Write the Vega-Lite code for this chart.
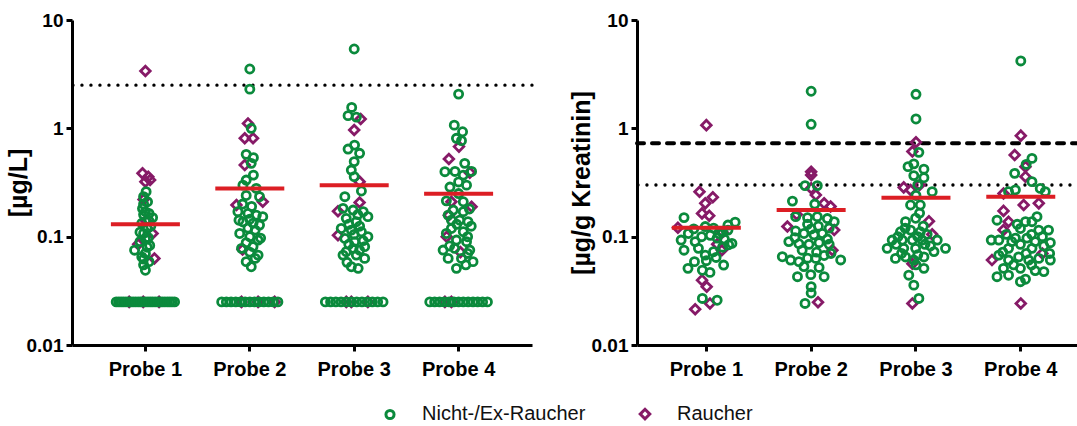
{
  "$schema": "https://vega.github.io/schema/vega-lite/v6.json",
  "padding": {"left": 6, "top": 11, "right": 0, "bottom": 0},
  "background": "white",
  "spacing": 35,
  "config": {
    "view": {"stroke": null},
    "font": "Liberation Sans",
    "axis": {"domainColor": "black", "domainWidth": 3, "tickColor": "black", "tickWidth": 3, "tickSize": 6, "labelColor": "black", "labelFont": "Liberation Sans", "labelFontWeight": "bold", "titleFont": "Liberation Sans", "titleFontWeight": "bold", "titleColor": "black", "grid": false}
  },
  "datasets": {
    "blut": [
      {"probe": "Probe 1", "gruppe": "Raucher", "wert": 3.38, "jitter": 0},
      {"probe": "Probe 1", "gruppe": "Raucher", "wert": 0.384, "jitter": -0.08},
      {"probe": "Probe 1", "gruppe": "Raucher", "wert": 0.358, "jitter": 0.08},
      {"probe": "Probe 1", "gruppe": "Raucher", "wert": 0.322, "jitter": 0},
      {"probe": "Probe 1", "gruppe": "Raucher", "wert": 0.333, "jitter": 0.13},
      {"probe": "Probe 1", "gruppe": "Raucher", "wert": 0.22, "jitter": -0.05},
      {"probe": "Probe 1", "gruppe": "Raucher", "wert": 0.14, "jitter": 0.02},
      {"probe": "Probe 1", "gruppe": "Raucher", "wert": 0.107, "jitter": 0.2},
      {"probe": "Probe 1", "gruppe": "Raucher", "wert": 0.085, "jitter": -0.2},
      {"probe": "Probe 1", "gruppe": "Raucher", "wert": 0.063, "jitter": 0.25},
      {"probe": "Probe 1", "gruppe": "Raucher", "wert": 0.025, "jitter": -0.45},
      {"probe": "Probe 1", "gruppe": "Raucher", "wert": 0.025, "jitter": -0.06},
      {"probe": "Probe 1", "gruppe": "Raucher", "wert": 0.025, "jitter": 0.38},
      {"probe": "Probe 2", "gruppe": "Raucher", "wert": 1.11, "jitter": -0.05},
      {"probe": "Probe 2", "gruppe": "Raucher", "wert": 0.81, "jitter": -0.14},
      {"probe": "Probe 2", "gruppe": "Raucher", "wert": 0.81, "jitter": 0.09},
      {"probe": "Probe 2", "gruppe": "Raucher", "wert": 0.458, "jitter": -0.14},
      {"probe": "Probe 2", "gruppe": "Raucher", "wert": 0.21, "jitter": 0.36},
      {"probe": "Probe 2", "gruppe": "Raucher", "wert": 0.196, "jitter": -0.37},
      {"probe": "Probe 2", "gruppe": "Raucher", "wert": 0.076, "jitter": -0.2},
      {"probe": "Probe 2", "gruppe": "Raucher", "wert": 0.025, "jitter": -0.23},
      {"probe": "Probe 2", "gruppe": "Raucher", "wert": 0.025, "jitter": 0.23},
      {"probe": "Probe 2", "gruppe": "Raucher", "wert": 0.025, "jitter": 0.69},
      {"probe": "Probe 3", "gruppe": "Raucher", "wert": 1.22, "jitter": 0.18},
      {"probe": "Probe 3", "gruppe": "Raucher", "wert": 0.965, "jitter": 0},
      {"probe": "Probe 3", "gruppe": "Raucher", "wert": 0.322, "jitter": 0.15},
      {"probe": "Probe 3", "gruppe": "Raucher", "wert": 0.207, "jitter": 0.15},
      {"probe": "Probe 3", "gruppe": "Raucher", "wert": 0.172, "jitter": -0.45},
      {"probe": "Probe 3", "gruppe": "Raucher", "wert": 0.103, "jitter": -0.45},
      {"probe": "Probe 3", "gruppe": "Raucher", "wert": 0.025, "jitter": -0.22},
      {"probe": "Probe 3", "gruppe": "Raucher", "wert": 0.025, "jitter": -0.08},
      {"probe": "Probe 3", "gruppe": "Raucher", "wert": 0.025, "jitter": 0.38},
      {"probe": "Probe 4", "gruppe": "Raucher", "wert": 0.678, "jitter": 0.01},
      {"probe": "Probe 4", "gruppe": "Raucher", "wert": 0.521, "jitter": -0.27},
      {"probe": "Probe 4", "gruppe": "Raucher", "wert": 0.39, "jitter": 0.31},
      {"probe": "Probe 4", "gruppe": "Raucher", "wert": 0.21, "jitter": -0.2},
      {"probe": "Probe 4", "gruppe": "Raucher", "wert": 0.189, "jitter": 0.36},
      {"probe": "Probe 4", "gruppe": "Raucher", "wert": 0.158, "jitter": -0.27},
      {"probe": "Probe 4", "gruppe": "Raucher", "wert": 0.1, "jitter": -0.33},
      {"probe": "Probe 4", "gruppe": "Raucher", "wert": 0.072, "jitter": 0.05},
      {"probe": "Probe 4", "gruppe": "Raucher", "wert": 0.025, "jitter": -0.38},
      {"probe": "Probe 4", "gruppe": "Raucher", "wert": 0.025, "jitter": -0.2},
      {"probe": "Probe 1", "gruppe": "Nicht-/Ex-Raucher", "wert": 0.26, "jitter": 0.02},
      {"probe": "Probe 1", "gruppe": "Nicht-/Ex-Raucher", "wert": 0.234, "jitter": -0.05},
      {"probe": "Probe 1", "gruppe": "Nicht-/Ex-Raucher", "wert": 0.21, "jitter": 0.06},
      {"probe": "Probe 1", "gruppe": "Nicht-/Ex-Raucher", "wert": 0.2, "jitter": -0.05},
      {"probe": "Probe 1", "gruppe": "Nicht-/Ex-Raucher", "wert": 0.182, "jitter": -0.08},
      {"probe": "Probe 1", "gruppe": "Nicht-/Ex-Raucher", "wert": 0.17, "jitter": 0},
      {"probe": "Probe 1", "gruppe": "Nicht-/Ex-Raucher", "wert": 0.164, "jitter": 0.1},
      {"probe": "Probe 1", "gruppe": "Nicht-/Ex-Raucher", "wert": 0.15, "jitter": 0.2},
      {"probe": "Probe 1", "gruppe": "Nicht-/Ex-Raucher", "wert": 0.14, "jitter": 0.1},
      {"probe": "Probe 1", "gruppe": "Nicht-/Ex-Raucher", "wert": 0.133, "jitter": -0.1},
      {"probe": "Probe 1", "gruppe": "Nicht-/Ex-Raucher", "wert": 0.119, "jitter": 0.05},
      {"probe": "Probe 1", "gruppe": "Nicht-/Ex-Raucher", "wert": 0.11, "jitter": -0.15},
      {"probe": "Probe 1", "gruppe": "Nicht-/Ex-Raucher", "wert": 0.107, "jitter": -0.05},
      {"probe": "Probe 1", "gruppe": "Nicht-/Ex-Raucher", "wert": 0.098, "jitter": 0.08},
      {"probe": "Probe 1", "gruppe": "Nicht-/Ex-Raucher", "wert": 0.095, "jitter": 0},
      {"probe": "Probe 1", "gruppe": "Nicht-/Ex-Raucher", "wert": 0.09, "jitter": -0.15},
      {"probe": "Probe 1", "gruppe": "Nicht-/Ex-Raucher", "wert": 0.083, "jitter": 0.12},
      {"probe": "Probe 1", "gruppe": "Nicht-/Ex-Raucher", "wert": 0.08, "jitter": 0.05},
      {"probe": "Probe 1", "gruppe": "Nicht-/Ex-Raucher", "wert": 0.075, "jitter": -0.3},
      {"probe": "Probe 1", "gruppe": "Nicht-/Ex-Raucher", "wert": 0.07, "jitter": 0},
      {"probe": "Probe 1", "gruppe": "Nicht-/Ex-Raucher", "wert": 0.065, "jitter": -0.1},
      {"probe": "Probe 1", "gruppe": "Nicht-/Ex-Raucher", "wert": 0.062, "jitter": -0.05},
      {"probe": "Probe 1", "gruppe": "Nicht-/Ex-Raucher", "wert": 0.0588, "jitter": 0.1},
      {"probe": "Probe 1", "gruppe": "Nicht-/Ex-Raucher", "wert": 0.055, "jitter": -0.05},
      {"probe": "Probe 1", "gruppe": "Nicht-/Ex-Raucher", "wert": 0.049, "jitter": 0},
      {"probe": "Probe 1", "gruppe": "Nicht-/Ex-Raucher", "wert": 0.16, "jitter": -0.05},
      {"probe": "Probe 1", "gruppe": "Nicht-/Ex-Raucher", "wert": 0.125, "jitter": 0.15},
      {"probe": "Probe 1", "gruppe": "Nicht-/Ex-Raucher", "wert": 0.025, "jitter": -0.81},
      {"probe": "Probe 1", "gruppe": "Nicht-/Ex-Raucher", "wert": 0.025, "jitter": -0.74},
      {"probe": "Probe 1", "gruppe": "Nicht-/Ex-Raucher", "wert": 0.025, "jitter": -0.675},
      {"probe": "Probe 1", "gruppe": "Nicht-/Ex-Raucher", "wert": 0.025, "jitter": -0.61},
      {"probe": "Probe 1", "gruppe": "Nicht-/Ex-Raucher", "wert": 0.025, "jitter": -0.54},
      {"probe": "Probe 1", "gruppe": "Nicht-/Ex-Raucher", "wert": 0.025, "jitter": -0.47},
      {"probe": "Probe 1", "gruppe": "Nicht-/Ex-Raucher", "wert": 0.025, "jitter": -0.405},
      {"probe": "Probe 1", "gruppe": "Nicht-/Ex-Raucher", "wert": 0.025, "jitter": -0.34},
      {"probe": "Probe 1", "gruppe": "Nicht-/Ex-Raucher", "wert": 0.025, "jitter": -0.27},
      {"probe": "Probe 1", "gruppe": "Nicht-/Ex-Raucher", "wert": 0.025, "jitter": -0.2},
      {"probe": "Probe 1", "gruppe": "Nicht-/Ex-Raucher", "wert": 0.025, "jitter": -0.135},
      {"probe": "Probe 1", "gruppe": "Nicht-/Ex-Raucher", "wert": 0.025, "jitter": -0.07},
      {"probe": "Probe 1", "gruppe": "Nicht-/Ex-Raucher", "wert": 0.025, "jitter": 0},
      {"probe": "Probe 1", "gruppe": "Nicht-/Ex-Raucher", "wert": 0.025, "jitter": 0.07},
      {"probe": "Probe 1", "gruppe": "Nicht-/Ex-Raucher", "wert": 0.025, "jitter": 0.135},
      {"probe": "Probe 1", "gruppe": "Nicht-/Ex-Raucher", "wert": 0.025, "jitter": 0.2},
      {"probe": "Probe 1", "gruppe": "Nicht-/Ex-Raucher", "wert": 0.025, "jitter": 0.27},
      {"probe": "Probe 1", "gruppe": "Nicht-/Ex-Raucher", "wert": 0.025, "jitter": 0.34},
      {"probe": "Probe 1", "gruppe": "Nicht-/Ex-Raucher", "wert": 0.025, "jitter": 0.405},
      {"probe": "Probe 1", "gruppe": "Nicht-/Ex-Raucher", "wert": 0.025, "jitter": 0.47},
      {"probe": "Probe 1", "gruppe": "Nicht-/Ex-Raucher", "wert": 0.025, "jitter": 0.54},
      {"probe": "Probe 1", "gruppe": "Nicht-/Ex-Raucher", "wert": 0.025, "jitter": 0.61},
      {"probe": "Probe 1", "gruppe": "Nicht-/Ex-Raucher", "wert": 0.025, "jitter": 0.675},
      {"probe": "Probe 1", "gruppe": "Nicht-/Ex-Raucher", "wert": 0.025, "jitter": 0.74},
      {"probe": "Probe 1", "gruppe": "Nicht-/Ex-Raucher", "wert": 0.025, "jitter": 0.81},
      {"probe": "Probe 2", "gruppe": "Nicht-/Ex-Raucher", "wert": 3.53, "jitter": 0},
      {"probe": "Probe 2", "gruppe": "Nicht-/Ex-Raucher", "wert": 2.3, "jitter": 0},
      {"probe": "Probe 2", "gruppe": "Nicht-/Ex-Raucher", "wert": 1.0, "jitter": 0.04},
      {"probe": "Probe 2", "gruppe": "Nicht-/Ex-Raucher", "wert": 0.575, "jitter": -0.1},
      {"probe": "Probe 2", "gruppe": "Nicht-/Ex-Raucher", "wert": 0.536, "jitter": 0.1},
      {"probe": "Probe 2", "gruppe": "Nicht-/Ex-Raucher", "wert": 0.475, "jitter": 0.04},
      {"probe": "Probe 2", "gruppe": "Nicht-/Ex-Raucher", "wert": 0.37, "jitter": 0.1},
      {"probe": "Probe 2", "gruppe": "Nicht-/Ex-Raucher", "wert": 0.333, "jitter": -0.1},
      {"probe": "Probe 2", "gruppe": "Nicht-/Ex-Raucher", "wert": 0.299, "jitter": -0.19},
      {"probe": "Probe 2", "gruppe": "Nicht-/Ex-Raucher", "wert": 0.279, "jitter": 0.18},
      {"probe": "Probe 2", "gruppe": "Nicht-/Ex-Raucher", "wert": 0.234, "jitter": 0.27},
      {"probe": "Probe 2", "gruppe": "Nicht-/Ex-Raucher", "wert": 0.24, "jitter": -0.1},
      {"probe": "Probe 2", "gruppe": "Nicht-/Ex-Raucher", "wert": 0.2, "jitter": -0.2},
      {"probe": "Probe 2", "gruppe": "Nicht-/Ex-Raucher", "wert": 0.19, "jitter": 0.05},
      {"probe": "Probe 2", "gruppe": "Nicht-/Ex-Raucher", "wert": 0.17, "jitter": -0.33},
      {"probe": "Probe 2", "gruppe": "Nicht-/Ex-Raucher", "wert": 0.164, "jitter": -0.05},
      {"probe": "Probe 2", "gruppe": "Nicht-/Ex-Raucher", "wert": 0.158, "jitter": 0.18},
      {"probe": "Probe 2", "gruppe": "Nicht-/Ex-Raucher", "wert": 0.153, "jitter": 0.36},
      {"probe": "Probe 2", "gruppe": "Nicht-/Ex-Raucher", "wert": 0.142, "jitter": -0.3},
      {"probe": "Probe 2", "gruppe": "Nicht-/Ex-Raucher", "wert": 0.137, "jitter": -0.19},
      {"probe": "Probe 2", "gruppe": "Nicht-/Ex-Raucher", "wert": 0.133, "jitter": 0.09},
      {"probe": "Probe 2", "gruppe": "Nicht-/Ex-Raucher", "wert": 0.128, "jitter": 0.27},
      {"probe": "Probe 2", "gruppe": "Nicht-/Ex-Raucher", "wert": 0.115, "jitter": 0.15},
      {"probe": "Probe 2", "gruppe": "Nicht-/Ex-Raucher", "wert": 0.107, "jitter": -0.28},
      {"probe": "Probe 2", "gruppe": "Nicht-/Ex-Raucher", "wert": 0.1, "jitter": 0},
      {"probe": "Probe 2", "gruppe": "Nicht-/Ex-Raucher", "wert": 0.097, "jitter": 0.3},
      {"probe": "Probe 2", "gruppe": "Nicht-/Ex-Raucher", "wert": 0.093, "jitter": 0.23},
      {"probe": "Probe 2", "gruppe": "Nicht-/Ex-Raucher", "wert": 0.088, "jitter": -0.1},
      {"probe": "Probe 2", "gruppe": "Nicht-/Ex-Raucher", "wert": 0.078, "jitter": -0.23},
      {"probe": "Probe 2", "gruppe": "Nicht-/Ex-Raucher", "wert": 0.081, "jitter": 0.09},
      {"probe": "Probe 2", "gruppe": "Nicht-/Ex-Raucher", "wert": 0.072, "jitter": 0},
      {"probe": "Probe 2", "gruppe": "Nicht-/Ex-Raucher", "wert": 0.0676, "jitter": 0.23},
      {"probe": "Probe 2", "gruppe": "Nicht-/Ex-Raucher", "wert": 0.063, "jitter": 0.15},
      {"probe": "Probe 2", "gruppe": "Nicht-/Ex-Raucher", "wert": 0.0588, "jitter": -0.1},
      {"probe": "Probe 2", "gruppe": "Nicht-/Ex-Raucher", "wert": 0.0528, "jitter": 0.04},
      {"probe": "Probe 2", "gruppe": "Nicht-/Ex-Raucher", "wert": 0.145, "jitter": 0},
      {"probe": "Probe 2", "gruppe": "Nicht-/Ex-Raucher", "wert": 0.12, "jitter": -0.05},
      {"probe": "Probe 2", "gruppe": "Nicht-/Ex-Raucher", "wert": 0.025, "jitter": -0.78},
      {"probe": "Probe 2", "gruppe": "Nicht-/Ex-Raucher", "wert": 0.025, "jitter": -0.65},
      {"probe": "Probe 2", "gruppe": "Nicht-/Ex-Raucher", "wert": 0.025, "jitter": -0.52},
      {"probe": "Probe 2", "gruppe": "Nicht-/Ex-Raucher", "wert": 0.025, "jitter": -0.39},
      {"probe": "Probe 2", "gruppe": "Nicht-/Ex-Raucher", "wert": 0.025, "jitter": -0.26},
      {"probe": "Probe 2", "gruppe": "Nicht-/Ex-Raucher", "wert": 0.025, "jitter": -0.13},
      {"probe": "Probe 2", "gruppe": "Nicht-/Ex-Raucher", "wert": 0.025, "jitter": 0},
      {"probe": "Probe 2", "gruppe": "Nicht-/Ex-Raucher", "wert": 0.025, "jitter": 0.13},
      {"probe": "Probe 2", "gruppe": "Nicht-/Ex-Raucher", "wert": 0.025, "jitter": 0.26},
      {"probe": "Probe 2", "gruppe": "Nicht-/Ex-Raucher", "wert": 0.025, "jitter": 0.39},
      {"probe": "Probe 2", "gruppe": "Nicht-/Ex-Raucher", "wert": 0.025, "jitter": 0.52},
      {"probe": "Probe 2", "gruppe": "Nicht-/Ex-Raucher", "wert": 0.025, "jitter": 0.65},
      {"probe": "Probe 2", "gruppe": "Nicht-/Ex-Raucher", "wert": 0.025, "jitter": 0.78},
      {"probe": "Probe 3", "gruppe": "Nicht-/Ex-Raucher", "wert": 5.4, "jitter": 0},
      {"probe": "Probe 3", "gruppe": "Nicht-/Ex-Raucher", "wert": 1.56, "jitter": -0.07},
      {"probe": "Probe 3", "gruppe": "Nicht-/Ex-Raucher", "wert": 1.31, "jitter": -0.17},
      {"probe": "Probe 3", "gruppe": "Nicht-/Ex-Raucher", "wert": 1.27, "jitter": 0.06},
      {"probe": "Probe 3", "gruppe": "Nicht-/Ex-Raucher", "wert": 0.644, "jitter": -0.17},
      {"probe": "Probe 3", "gruppe": "Nicht-/Ex-Raucher", "wert": 0.7, "jitter": 0.01},
      {"probe": "Probe 3", "gruppe": "Nicht-/Ex-Raucher", "wert": 0.588, "jitter": 0.15},
      {"probe": "Probe 3", "gruppe": "Nicht-/Ex-Raucher", "wert": 0.493, "jitter": 0},
      {"probe": "Probe 3", "gruppe": "Nicht-/Ex-Raucher", "wert": 0.412, "jitter": -0.08},
      {"probe": "Probe 3", "gruppe": "Nicht-/Ex-Raucher", "wert": 0.358, "jitter": 0},
      {"probe": "Probe 3", "gruppe": "Nicht-/Ex-Raucher", "wert": 0.264, "jitter": 0.2},
      {"probe": "Probe 3", "gruppe": "Nicht-/Ex-Raucher", "wert": 0.234, "jitter": -0.26},
      {"probe": "Probe 3", "gruppe": "Nicht-/Ex-Raucher", "wert": 0.1825, "jitter": -0.31},
      {"probe": "Probe 3", "gruppe": "Nicht-/Ex-Raucher", "wert": 0.176, "jitter": -0.03},
      {"probe": "Probe 3", "gruppe": "Nicht-/Ex-Raucher", "wert": 0.17, "jitter": 0.25},
      {"probe": "Probe 3", "gruppe": "Nicht-/Ex-Raucher", "wert": 0.16, "jitter": 0.1},
      {"probe": "Probe 3", "gruppe": "Nicht-/Ex-Raucher", "wert": 0.153, "jitter": 0.38},
      {"probe": "Probe 3", "gruppe": "Nicht-/Ex-Raucher", "wert": 0.1476, "jitter": -0.22},
      {"probe": "Probe 3", "gruppe": "Nicht-/Ex-Raucher", "wert": 0.1375, "jitter": 0.06},
      {"probe": "Probe 3", "gruppe": "Nicht-/Ex-Raucher", "wert": 0.13, "jitter": -0.15},
      {"probe": "Probe 3", "gruppe": "Nicht-/Ex-Raucher", "wert": 0.125, "jitter": 0.15},
      {"probe": "Probe 3", "gruppe": "Nicht-/Ex-Raucher", "wert": 0.119, "jitter": -0.36},
      {"probe": "Probe 3", "gruppe": "Nicht-/Ex-Raucher", "wert": 0.115, "jitter": -0.08},
      {"probe": "Probe 3", "gruppe": "Nicht-/Ex-Raucher", "wert": 0.111, "jitter": 0.2},
      {"probe": "Probe 3", "gruppe": "Nicht-/Ex-Raucher", "wert": 0.105, "jitter": 0},
      {"probe": "Probe 3", "gruppe": "Nicht-/Ex-Raucher", "wert": 0.1, "jitter": 0.38},
      {"probe": "Probe 3", "gruppe": "Nicht-/Ex-Raucher", "wert": 0.0964, "jitter": -0.26},
      {"probe": "Probe 3", "gruppe": "Nicht-/Ex-Raucher", "wert": 0.092, "jitter": 0.25},
      {"probe": "Probe 3", "gruppe": "Nicht-/Ex-Raucher", "wert": 0.0899, "jitter": 0.01},
      {"probe": "Probe 3", "gruppe": "Nicht-/Ex-Raucher", "wert": 0.085, "jitter": -0.15},
      {"probe": "Probe 3", "gruppe": "Nicht-/Ex-Raucher", "wert": 0.0809, "jitter": 0.29},
      {"probe": "Probe 3", "gruppe": "Nicht-/Ex-Raucher", "wert": 0.078, "jitter": -0.03},
      {"probe": "Probe 3", "gruppe": "Nicht-/Ex-Raucher", "wert": 0.075, "jitter": 0.15},
      {"probe": "Probe 3", "gruppe": "Nicht-/Ex-Raucher", "wert": 0.0727, "jitter": -0.22},
      {"probe": "Probe 3", "gruppe": "Nicht-/Ex-Raucher", "wert": 0.0676, "jitter": 0.06},
      {"probe": "Probe 3", "gruppe": "Nicht-/Ex-Raucher", "wert": 0.063, "jitter": 0.29},
      {"probe": "Probe 3", "gruppe": "Nicht-/Ex-Raucher", "wert": 0.058, "jitter": -0.2},
      {"probe": "Probe 3", "gruppe": "Nicht-/Ex-Raucher", "wert": 0.0528, "jitter": -0.08},
      {"probe": "Probe 3", "gruppe": "Nicht-/Ex-Raucher", "wert": 0.051, "jitter": 0.11},
      {"probe": "Probe 3", "gruppe": "Nicht-/Ex-Raucher", "wert": 0.0676, "jitter": -0.31},
      {"probe": "Probe 3", "gruppe": "Nicht-/Ex-Raucher", "wert": 0.025, "jitter": -0.8},
      {"probe": "Probe 3", "gruppe": "Nicht-/Ex-Raucher", "wert": 0.025, "jitter": -0.655},
      {"probe": "Probe 3", "gruppe": "Nicht-/Ex-Raucher", "wert": 0.025, "jitter": -0.51},
      {"probe": "Probe 3", "gruppe": "Nicht-/Ex-Raucher", "wert": 0.025, "jitter": -0.365},
      {"probe": "Probe 3", "gruppe": "Nicht-/Ex-Raucher", "wert": 0.025, "jitter": -0.22},
      {"probe": "Probe 3", "gruppe": "Nicht-/Ex-Raucher", "wert": 0.025, "jitter": -0.075},
      {"probe": "Probe 3", "gruppe": "Nicht-/Ex-Raucher", "wert": 0.025, "jitter": 0.07},
      {"probe": "Probe 3", "gruppe": "Nicht-/Ex-Raucher", "wert": 0.025, "jitter": 0.215},
      {"probe": "Probe 3", "gruppe": "Nicht-/Ex-Raucher", "wert": 0.025, "jitter": 0.36},
      {"probe": "Probe 3", "gruppe": "Nicht-/Ex-Raucher", "wert": 0.025, "jitter": 0.505},
      {"probe": "Probe 3", "gruppe": "Nicht-/Ex-Raucher", "wert": 0.025, "jitter": 0.65},
      {"probe": "Probe 3", "gruppe": "Nicht-/Ex-Raucher", "wert": 0.025, "jitter": 0.8},
      {"probe": "Probe 4", "gruppe": "Nicht-/Ex-Raucher", "wert": 2.07, "jitter": 0},
      {"probe": "Probe 4", "gruppe": "Nicht-/Ex-Raucher", "wert": 1.07, "jitter": -0.12},
      {"probe": "Probe 4", "gruppe": "Nicht-/Ex-Raucher", "wert": 0.93, "jitter": 0.11},
      {"probe": "Probe 4", "gruppe": "Nicht-/Ex-Raucher", "wert": 0.809, "jitter": -0.06},
      {"probe": "Probe 4", "gruppe": "Nicht-/Ex-Raucher", "wert": 0.77, "jitter": 0.08},
      {"probe": "Probe 4", "gruppe": "Nicht-/Ex-Raucher", "wert": 0.475, "jitter": 0.17},
      {"probe": "Probe 4", "gruppe": "Nicht-/Ex-Raucher", "wert": 0.398, "jitter": -0.38},
      {"probe": "Probe 4", "gruppe": "Nicht-/Ex-Raucher", "wert": 0.4, "jitter": -0.1},
      {"probe": "Probe 4", "gruppe": "Nicht-/Ex-Raucher", "wert": 0.4, "jitter": 0.36},
      {"probe": "Probe 4", "gruppe": "Nicht-/Ex-Raucher", "wert": 0.37, "jitter": 0.13},
      {"probe": "Probe 4", "gruppe": "Nicht-/Ex-Raucher", "wert": 0.32, "jitter": 0},
      {"probe": "Probe 4", "gruppe": "Nicht-/Ex-Raucher", "wert": 0.299, "jitter": 0.22},
      {"probe": "Probe 4", "gruppe": "Nicht-/Ex-Raucher", "wert": 0.287, "jitter": -0.24},
      {"probe": "Probe 4", "gruppe": "Nicht-/Ex-Raucher", "wert": 0.25, "jitter": 0},
      {"probe": "Probe 4", "gruppe": "Nicht-/Ex-Raucher", "wert": 0.214, "jitter": -0.34},
      {"probe": "Probe 4", "gruppe": "Nicht-/Ex-Raucher", "wert": 0.21, "jitter": 0.13},
      {"probe": "Probe 4", "gruppe": "Nicht-/Ex-Raucher", "wert": 0.18, "jitter": 0.3},
      {"probe": "Probe 4", "gruppe": "Nicht-/Ex-Raucher", "wert": 0.176, "jitter": -0.15},
      {"probe": "Probe 4", "gruppe": "Nicht-/Ex-Raucher", "wert": 0.17, "jitter": 0.13},
      {"probe": "Probe 4", "gruppe": "Nicht-/Ex-Raucher", "wert": 0.158, "jitter": -0.29},
      {"probe": "Probe 4", "gruppe": "Nicht-/Ex-Raucher", "wert": 0.142, "jitter": 0.03},
      {"probe": "Probe 4", "gruppe": "Nicht-/Ex-Raucher", "wert": 0.1375, "jitter": 0.26},
      {"probe": "Probe 4", "gruppe": "Nicht-/Ex-Raucher", "wert": 0.142, "jitter": -0.2},
      {"probe": "Probe 4", "gruppe": "Nicht-/Ex-Raucher", "wert": 0.13, "jitter": -0.05},
      {"probe": "Probe 4", "gruppe": "Nicht-/Ex-Raucher", "wert": 0.125, "jitter": 0.35},
      {"probe": "Probe 4", "gruppe": "Nicht-/Ex-Raucher", "wert": 0.119, "jitter": -0.2},
      {"probe": "Probe 4", "gruppe": "Nicht-/Ex-Raucher", "wert": 0.111, "jitter": 0.13},
      {"probe": "Probe 4", "gruppe": "Nicht-/Ex-Raucher", "wert": 0.107, "jitter": -0.34},
      {"probe": "Probe 4", "gruppe": "Nicht-/Ex-Raucher", "wert": 0.1, "jitter": 0.25},
      {"probe": "Probe 4", "gruppe": "Nicht-/Ex-Raucher", "wert": 0.093, "jitter": -0.06},
      {"probe": "Probe 4", "gruppe": "Nicht-/Ex-Raucher", "wert": 0.0899, "jitter": 0.22},
      {"probe": "Probe 4", "gruppe": "Nicht-/Ex-Raucher", "wert": 0.082, "jitter": -0.25},
      {"probe": "Probe 4", "gruppe": "Nicht-/Ex-Raucher", "wert": 0.0752, "jitter": -0.43},
      {"probe": "Probe 4", "gruppe": "Nicht-/Ex-Raucher", "wert": 0.078, "jitter": -0.11},
      {"probe": "Probe 4", "gruppe": "Nicht-/Ex-Raucher", "wert": 0.0752, "jitter": 0.31},
      {"probe": "Probe 4", "gruppe": "Nicht-/Ex-Raucher", "wert": 0.07, "jitter": 0.25},
      {"probe": "Probe 4", "gruppe": "Nicht-/Ex-Raucher", "wert": 0.063, "jitter": -0.29},
      {"probe": "Probe 4", "gruppe": "Nicht-/Ex-Raucher", "wert": 0.063, "jitter": 0.08},
      {"probe": "Probe 4", "gruppe": "Nicht-/Ex-Raucher", "wert": 0.0588, "jitter": 0.4},
      {"probe": "Probe 4", "gruppe": "Nicht-/Ex-Raucher", "wert": 0.055, "jitter": 0.2},
      {"probe": "Probe 4", "gruppe": "Nicht-/Ex-Raucher", "wert": 0.051, "jitter": -0.06},
      {"probe": "Probe 4", "gruppe": "Nicht-/Ex-Raucher", "wert": 0.025, "jitter": -0.8},
      {"probe": "Probe 4", "gruppe": "Nicht-/Ex-Raucher", "wert": 0.025, "jitter": -0.665},
      {"probe": "Probe 4", "gruppe": "Nicht-/Ex-Raucher", "wert": 0.025, "jitter": -0.53},
      {"probe": "Probe 4", "gruppe": "Nicht-/Ex-Raucher", "wert": 0.025, "jitter": -0.4},
      {"probe": "Probe 4", "gruppe": "Nicht-/Ex-Raucher", "wert": 0.025, "jitter": -0.265},
      {"probe": "Probe 4", "gruppe": "Nicht-/Ex-Raucher", "wert": 0.025, "jitter": -0.13},
      {"probe": "Probe 4", "gruppe": "Nicht-/Ex-Raucher", "wert": 0.025, "jitter": 0},
      {"probe": "Probe 4", "gruppe": "Nicht-/Ex-Raucher", "wert": 0.025, "jitter": 0.13},
      {"probe": "Probe 4", "gruppe": "Nicht-/Ex-Raucher", "wert": 0.025, "jitter": 0.265},
      {"probe": "Probe 4", "gruppe": "Nicht-/Ex-Raucher", "wert": 0.025, "jitter": 0.4},
      {"probe": "Probe 4", "gruppe": "Nicht-/Ex-Raucher", "wert": 0.025, "jitter": 0.53},
      {"probe": "Probe 4", "gruppe": "Nicht-/Ex-Raucher", "wert": 0.025, "jitter": 0.665},
      {"probe": "Probe 4", "gruppe": "Nicht-/Ex-Raucher", "wert": 0.025, "jitter": 0.8}
    ],
    "krea": [
      {"probe": "Probe 1", "gruppe": "Raucher", "wert": 1.07, "jitter": 0},
      {"probe": "Probe 1", "gruppe": "Raucher", "wert": 0.26, "jitter": -0.19},
      {"probe": "Probe 1", "gruppe": "Raucher", "wert": 0.231, "jitter": 0.18},
      {"probe": "Probe 1", "gruppe": "Raucher", "wert": 0.203, "jitter": -0.03},
      {"probe": "Probe 1", "gruppe": "Raucher", "wert": 0.164, "jitter": -0.12},
      {"probe": "Probe 1", "gruppe": "Raucher", "wert": 0.156, "jitter": 0.08},
      {"probe": "Probe 1", "gruppe": "Raucher", "wert": 0.121, "jitter": -0.79},
      {"probe": "Probe 1", "gruppe": "Raucher", "wert": 0.075, "jitter": 0.43},
      {"probe": "Probe 1", "gruppe": "Raucher", "wert": 0.085, "jitter": 0.3},
      {"probe": "Probe 1", "gruppe": "Raucher", "wert": 0.11, "jitter": 0.45},
      {"probe": "Probe 1", "gruppe": "Raucher", "wert": 0.0397, "jitter": -0.12},
      {"probe": "Probe 1", "gruppe": "Raucher", "wert": 0.0345, "jitter": 0.01},
      {"probe": "Probe 1", "gruppe": "Raucher", "wert": 0.0214, "jitter": -0.31},
      {"probe": "Probe 1", "gruppe": "Raucher", "wert": 0.0242, "jitter": 0.1},
      {"probe": "Probe 2", "gruppe": "Raucher", "wert": 0.398, "jitter": 0},
      {"probe": "Probe 2", "gruppe": "Raucher", "wert": 0.37, "jitter": 0},
      {"probe": "Probe 2", "gruppe": "Raucher", "wert": 0.28, "jitter": 0},
      {"probe": "Probe 2", "gruppe": "Raucher", "wert": 0.242, "jitter": 0.13},
      {"probe": "Probe 2", "gruppe": "Raucher", "wert": 0.203, "jitter": 0.36},
      {"probe": "Probe 2", "gruppe": "Raucher", "wert": 0.19, "jitter": 0.54},
      {"probe": "Probe 2", "gruppe": "Raucher", "wert": 0.16, "jitter": -0.4},
      {"probe": "Probe 2", "gruppe": "Raucher", "wert": 0.115, "jitter": 0.64},
      {"probe": "Probe 2", "gruppe": "Raucher", "wert": 0.124, "jitter": -0.66},
      {"probe": "Probe 2", "gruppe": "Raucher", "wert": 0.075, "jitter": 0.59},
      {"probe": "Probe 2", "gruppe": "Raucher", "wert": 0.0248, "jitter": 0.19},
      {"probe": "Probe 3", "gruppe": "Raucher", "wert": 0.743, "jitter": 0},
      {"probe": "Probe 3", "gruppe": "Raucher", "wert": 0.61, "jitter": -0.1},
      {"probe": "Probe 3", "gruppe": "Raucher", "wert": 0.3, "jitter": 0.1},
      {"probe": "Probe 3", "gruppe": "Raucher", "wert": 0.285, "jitter": -0.34},
      {"probe": "Probe 3", "gruppe": "Raucher", "wert": 0.27, "jitter": -0.15},
      {"probe": "Probe 3", "gruppe": "Raucher", "wert": 0.139, "jitter": 0.36},
      {"probe": "Probe 3", "gruppe": "Raucher", "wert": 0.105, "jitter": 0.45},
      {"probe": "Probe 3", "gruppe": "Raucher", "wert": 0.0562, "jitter": -0.1},
      {"probe": "Probe 3", "gruppe": "Raucher", "wert": 0.0242, "jitter": -0.1},
      {"probe": "Probe 4", "gruppe": "Raucher", "wert": 0.856, "jitter": 0},
      {"probe": "Probe 4", "gruppe": "Raucher", "wert": 0.567, "jitter": -0.17},
      {"probe": "Probe 4", "gruppe": "Raucher", "wert": 0.443, "jitter": 0.13},
      {"probe": "Probe 4", "gruppe": "Raucher", "wert": 0.358, "jitter": 0.13},
      {"probe": "Probe 4", "gruppe": "Raucher", "wert": 0.25, "jitter": -0.48},
      {"probe": "Probe 4", "gruppe": "Raucher", "wert": 0.203, "jitter": 0.5},
      {"probe": "Probe 4", "gruppe": "Raucher", "wert": 0.196, "jitter": 0.08},
      {"probe": "Probe 4", "gruppe": "Raucher", "wert": 0.173, "jitter": -0.48},
      {"probe": "Probe 4", "gruppe": "Raucher", "wert": 0.1375, "jitter": -0.34},
      {"probe": "Probe 4", "gruppe": "Raucher", "wert": 0.115, "jitter": -0.48},
      {"probe": "Probe 4", "gruppe": "Raucher", "wert": 0.07, "jitter": 0.6},
      {"probe": "Probe 4", "gruppe": "Raucher", "wert": 0.0608, "jitter": -0.8},
      {"probe": "Probe 4", "gruppe": "Raucher", "wert": 0.0242, "jitter": 0},
      {"probe": "Probe 1", "gruppe": "Nicht-/Ex-Raucher", "wert": 0.15, "jitter": -0.62},
      {"probe": "Probe 1", "gruppe": "Nicht-/Ex-Raucher", "wert": 0.136, "jitter": 0.8},
      {"probe": "Probe 1", "gruppe": "Nicht-/Ex-Raucher", "wert": 0.128, "jitter": 0.6},
      {"probe": "Probe 1", "gruppe": "Nicht-/Ex-Raucher", "wert": 0.124, "jitter": -0.03},
      {"probe": "Probe 1", "gruppe": "Nicht-/Ex-Raucher", "wert": 0.12, "jitter": 0.2},
      {"probe": "Probe 1", "gruppe": "Nicht-/Ex-Raucher", "wert": 0.118, "jitter": -0.35},
      {"probe": "Probe 1", "gruppe": "Nicht-/Ex-Raucher", "wert": 0.115, "jitter": 0.6},
      {"probe": "Probe 1", "gruppe": "Nicht-/Ex-Raucher", "wert": 0.11, "jitter": 0.45},
      {"probe": "Probe 1", "gruppe": "Nicht-/Ex-Raucher", "wert": 0.107, "jitter": -0.5},
      {"probe": "Probe 1", "gruppe": "Nicht-/Ex-Raucher", "wert": 0.107, "jitter": 0.34},
      {"probe": "Probe 1", "gruppe": "Nicht-/Ex-Raucher", "wert": 0.103, "jitter": 0.11},
      {"probe": "Probe 1", "gruppe": "Nicht-/Ex-Raucher", "wert": 0.1, "jitter": -0.13},
      {"probe": "Probe 1", "gruppe": "Nicht-/Ex-Raucher", "wert": 0.097, "jitter": 0.3},
      {"probe": "Probe 1", "gruppe": "Nicht-/Ex-Raucher", "wert": 0.095, "jitter": 0.5},
      {"probe": "Probe 1", "gruppe": "Nicht-/Ex-Raucher", "wert": 0.093, "jitter": -0.7},
      {"probe": "Probe 1", "gruppe": "Nicht-/Ex-Raucher", "wert": 0.09, "jitter": -0.31},
      {"probe": "Probe 1", "gruppe": "Nicht-/Ex-Raucher", "wert": 0.0867, "jitter": 0.71},
      {"probe": "Probe 1", "gruppe": "Nicht-/Ex-Raucher", "wert": 0.0842, "jitter": 0.62},
      {"probe": "Probe 1", "gruppe": "Nicht-/Ex-Raucher", "wert": 0.08, "jitter": 0.45},
      {"probe": "Probe 1", "gruppe": "Nicht-/Ex-Raucher", "wert": 0.078, "jitter": -0.22},
      {"probe": "Probe 1", "gruppe": "Nicht-/Ex-Raucher", "wert": 0.075, "jitter": -0.62},
      {"probe": "Probe 1", "gruppe": "Nicht-/Ex-Raucher", "wert": 0.0727, "jitter": 0.2},
      {"probe": "Probe 1", "gruppe": "Nicht-/Ex-Raucher", "wert": 0.0676, "jitter": -0.03},
      {"probe": "Probe 1", "gruppe": "Nicht-/Ex-Raucher", "wert": 0.0643, "jitter": 0.27},
      {"probe": "Probe 1", "gruppe": "Nicht-/Ex-Raucher", "wert": 0.06, "jitter": 0},
      {"probe": "Probe 1", "gruppe": "Nicht-/Ex-Raucher", "wert": 0.0588, "jitter": -0.33},
      {"probe": "Probe 1", "gruppe": "Nicht-/Ex-Raucher", "wert": 0.0547, "jitter": 0.48},
      {"probe": "Probe 1", "gruppe": "Nicht-/Ex-Raucher", "wert": 0.051, "jitter": -0.51},
      {"probe": "Probe 1", "gruppe": "Nicht-/Ex-Raucher", "wert": 0.049, "jitter": -0.11},
      {"probe": "Probe 1", "gruppe": "Nicht-/Ex-Raucher", "wert": 0.0468, "jitter": 0.1},
      {"probe": "Probe 1", "gruppe": "Nicht-/Ex-Raucher", "wert": 0.0269, "jitter": -0.11},
      {"probe": "Probe 1", "gruppe": "Nicht-/Ex-Raucher", "wert": 0.0259, "jitter": 0.3},
      {"probe": "Probe 2", "gruppe": "Nicht-/Ex-Raucher", "wert": 2.2, "jitter": 0},
      {"probe": "Probe 2", "gruppe": "Nicht-/Ex-Raucher", "wert": 1.09, "jitter": 0},
      {"probe": "Probe 2", "gruppe": "Nicht-/Ex-Raucher", "wert": 0.296, "jitter": -0.17},
      {"probe": "Probe 2", "gruppe": "Nicht-/Ex-Raucher", "wert": 0.296, "jitter": 0.17},
      {"probe": "Probe 2", "gruppe": "Nicht-/Ex-Raucher", "wert": 0.213, "jitter": -0.52},
      {"probe": "Probe 2", "gruppe": "Nicht-/Ex-Raucher", "wert": 0.2, "jitter": 0.1},
      {"probe": "Probe 2", "gruppe": "Nicht-/Ex-Raucher", "wert": 0.153, "jitter": -0.43},
      {"probe": "Probe 2", "gruppe": "Nicht-/Ex-Raucher", "wert": 0.15, "jitter": -0.1},
      {"probe": "Probe 2", "gruppe": "Nicht-/Ex-Raucher", "wert": 0.153, "jitter": 0.17},
      {"probe": "Probe 2", "gruppe": "Nicht-/Ex-Raucher", "wert": 0.147, "jitter": 0.45},
      {"probe": "Probe 2", "gruppe": "Nicht-/Ex-Raucher", "wert": 0.1375, "jitter": 0.64},
      {"probe": "Probe 2", "gruppe": "Nicht-/Ex-Raucher", "wert": 0.13, "jitter": -0.1},
      {"probe": "Probe 2", "gruppe": "Nicht-/Ex-Raucher", "wert": 0.125, "jitter": 0.2},
      {"probe": "Probe 2", "gruppe": "Nicht-/Ex-Raucher", "wert": 0.12, "jitter": 0.5},
      {"probe": "Probe 2", "gruppe": "Nicht-/Ex-Raucher", "wert": 0.118, "jitter": 0},
      {"probe": "Probe 2", "gruppe": "Nicht-/Ex-Raucher", "wert": 0.1128, "jitter": -0.43},
      {"probe": "Probe 2", "gruppe": "Nicht-/Ex-Raucher", "wert": 0.107, "jitter": -0.2},
      {"probe": "Probe 2", "gruppe": "Nicht-/Ex-Raucher", "wert": 0.104, "jitter": 0.08},
      {"probe": "Probe 2", "gruppe": "Nicht-/Ex-Raucher", "wert": 0.107, "jitter": 0.31},
      {"probe": "Probe 2", "gruppe": "Nicht-/Ex-Raucher", "wert": 0.098, "jitter": -0.45},
      {"probe": "Probe 2", "gruppe": "Nicht-/Ex-Raucher", "wert": 0.095, "jitter": 0.45},
      {"probe": "Probe 2", "gruppe": "Nicht-/Ex-Raucher", "wert": 0.09, "jitter": -0.62},
      {"probe": "Probe 2", "gruppe": "Nicht-/Ex-Raucher", "wert": 0.086, "jitter": -0.34},
      {"probe": "Probe 2", "gruppe": "Nicht-/Ex-Raucher", "wert": 0.085, "jitter": -0.06},
      {"probe": "Probe 2", "gruppe": "Nicht-/Ex-Raucher", "wert": 0.088, "jitter": 0.22},
      {"probe": "Probe 2", "gruppe": "Nicht-/Ex-Raucher", "wert": 0.085, "jitter": 0.5},
      {"probe": "Probe 2", "gruppe": "Nicht-/Ex-Raucher", "wert": 0.075, "jitter": -0.25},
      {"probe": "Probe 2", "gruppe": "Nicht-/Ex-Raucher", "wert": 0.072, "jitter": 0.15},
      {"probe": "Probe 2", "gruppe": "Nicht-/Ex-Raucher", "wert": 0.07, "jitter": 0.55},
      {"probe": "Probe 2", "gruppe": "Nicht-/Ex-Raucher", "wert": 0.0653, "jitter": -0.8},
      {"probe": "Probe 2", "gruppe": "Nicht-/Ex-Raucher", "wert": 0.0608, "jitter": -0.57},
      {"probe": "Probe 2", "gruppe": "Nicht-/Ex-Raucher", "wert": 0.0588, "jitter": -0.34},
      {"probe": "Probe 2", "gruppe": "Nicht-/Ex-Raucher", "wert": 0.0633, "jitter": -0.1},
      {"probe": "Probe 2", "gruppe": "Nicht-/Ex-Raucher", "wert": 0.063, "jitter": 0.13},
      {"probe": "Probe 2", "gruppe": "Nicht-/Ex-Raucher", "wert": 0.067, "jitter": 0.36},
      {"probe": "Probe 2", "gruppe": "Nicht-/Ex-Raucher", "wert": 0.061, "jitter": 0.82},
      {"probe": "Probe 2", "gruppe": "Nicht-/Ex-Raucher", "wert": 0.053, "jitter": -0.2},
      {"probe": "Probe 2", "gruppe": "Nicht-/Ex-Raucher", "wert": 0.052, "jitter": 0.22},
      {"probe": "Probe 2", "gruppe": "Nicht-/Ex-Raucher", "wert": 0.0427, "jitter": -0.38},
      {"probe": "Probe 2", "gruppe": "Nicht-/Ex-Raucher", "wert": 0.0446, "jitter": -0.01},
      {"probe": "Probe 2", "gruppe": "Nicht-/Ex-Raucher", "wert": 0.0427, "jitter": 0.36},
      {"probe": "Probe 2", "gruppe": "Nicht-/Ex-Raucher", "wert": 0.0345, "jitter": 0},
      {"probe": "Probe 2", "gruppe": "Nicht-/Ex-Raucher", "wert": 0.0302, "jitter": 0},
      {"probe": "Probe 2", "gruppe": "Nicht-/Ex-Raucher", "wert": 0.0242, "jitter": -0.17},
      {"probe": "Probe 3", "gruppe": "Nicht-/Ex-Raucher", "wert": 2.06, "jitter": 0},
      {"probe": "Probe 3", "gruppe": "Nicht-/Ex-Raucher", "wert": 1.22, "jitter": 0},
      {"probe": "Probe 3", "gruppe": "Nicht-/Ex-Raucher", "wert": 0.6, "jitter": 0.08},
      {"probe": "Probe 3", "gruppe": "Nicht-/Ex-Raucher", "wert": 0.47, "jitter": -0.06},
      {"probe": "Probe 3", "gruppe": "Nicht-/Ex-Raucher", "wert": 0.443, "jitter": -0.22},
      {"probe": "Probe 3", "gruppe": "Nicht-/Ex-Raucher", "wert": 0.42, "jitter": 0.22},
      {"probe": "Probe 3", "gruppe": "Nicht-/Ex-Raucher", "wert": 0.366, "jitter": -0.06},
      {"probe": "Probe 3", "gruppe": "Nicht-/Ex-Raucher", "wert": 0.35, "jitter": 0.22},
      {"probe": "Probe 3", "gruppe": "Nicht-/Ex-Raucher", "wert": 0.3, "jitter": 0.05},
      {"probe": "Probe 3", "gruppe": "Nicht-/Ex-Raucher", "wert": 0.26, "jitter": 0.45},
      {"probe": "Probe 3", "gruppe": "Nicht-/Ex-Raucher", "wert": 0.24, "jitter": 0},
      {"probe": "Probe 3", "gruppe": "Nicht-/Ex-Raucher", "wert": 0.196, "jitter": -0.15},
      {"probe": "Probe 3", "gruppe": "Nicht-/Ex-Raucher", "wert": 0.196, "jitter": 0.12},
      {"probe": "Probe 3", "gruppe": "Nicht-/Ex-Raucher", "wert": 0.165, "jitter": 0.1},
      {"probe": "Probe 3", "gruppe": "Nicht-/Ex-Raucher", "wert": 0.148, "jitter": -0.01},
      {"probe": "Probe 3", "gruppe": "Nicht-/Ex-Raucher", "wert": 0.1375, "jitter": -0.29},
      {"probe": "Probe 3", "gruppe": "Nicht-/Ex-Raucher", "wert": 0.125, "jitter": 0.2},
      {"probe": "Probe 3", "gruppe": "Nicht-/Ex-Raucher", "wert": 0.12, "jitter": -0.3},
      {"probe": "Probe 3", "gruppe": "Nicht-/Ex-Raucher", "wert": 0.115, "jitter": -0.15},
      {"probe": "Probe 3", "gruppe": "Nicht-/Ex-Raucher", "wert": 0.111, "jitter": -0.43},
      {"probe": "Probe 3", "gruppe": "Nicht-/Ex-Raucher", "wert": 0.111, "jitter": 0.12},
      {"probe": "Probe 3", "gruppe": "Nicht-/Ex-Raucher", "wert": 0.105, "jitter": 0.31},
      {"probe": "Probe 3", "gruppe": "Nicht-/Ex-Raucher", "wert": 0.1, "jitter": -0.5},
      {"probe": "Probe 3", "gruppe": "Nicht-/Ex-Raucher", "wert": 0.1, "jitter": 0.05},
      {"probe": "Probe 3", "gruppe": "Nicht-/Ex-Raucher", "wert": 0.093, "jitter": -0.66},
      {"probe": "Probe 3", "gruppe": "Nicht-/Ex-Raucher", "wert": 0.093, "jitter": -0.38},
      {"probe": "Probe 3", "gruppe": "Nicht-/Ex-Raucher", "wert": 0.093, "jitter": -0.1},
      {"probe": "Probe 3", "gruppe": "Nicht-/Ex-Raucher", "wert": 0.093, "jitter": 0.17},
      {"probe": "Probe 3", "gruppe": "Nicht-/Ex-Raucher", "wert": 0.093, "jitter": 0.59},
      {"probe": "Probe 3", "gruppe": "Nicht-/Ex-Raucher", "wert": 0.085, "jitter": -0.55},
      {"probe": "Probe 3", "gruppe": "Nicht-/Ex-Raucher", "wert": 0.085, "jitter": 0.25},
      {"probe": "Probe 3", "gruppe": "Nicht-/Ex-Raucher", "wert": 0.082, "jitter": 0.4},
      {"probe": "Probe 3", "gruppe": "Nicht-/Ex-Raucher", "wert": 0.078, "jitter": -0.8},
      {"probe": "Probe 3", "gruppe": "Nicht-/Ex-Raucher", "wert": 0.078, "jitter": -0.34},
      {"probe": "Probe 3", "gruppe": "Nicht-/Ex-Raucher", "wert": 0.078, "jitter": -0.01},
      {"probe": "Probe 3", "gruppe": "Nicht-/Ex-Raucher", "wert": 0.078, "jitter": 0.82},
      {"probe": "Probe 3", "gruppe": "Nicht-/Ex-Raucher", "wert": 0.0728, "jitter": 0.5},
      {"probe": "Probe 3", "gruppe": "Nicht-/Ex-Raucher", "wert": 0.07, "jitter": -0.4},
      {"probe": "Probe 3", "gruppe": "Nicht-/Ex-Raucher", "wert": 0.068, "jitter": 0.05},
      {"probe": "Probe 3", "gruppe": "Nicht-/Ex-Raucher", "wert": 0.065, "jitter": -0.29},
      {"probe": "Probe 3", "gruppe": "Nicht-/Ex-Raucher", "wert": 0.065, "jitter": 0.22},
      {"probe": "Probe 3", "gruppe": "Nicht-/Ex-Raucher", "wert": 0.063, "jitter": -0.57},
      {"probe": "Probe 3", "gruppe": "Nicht-/Ex-Raucher", "wert": 0.0608, "jitter": -0.06},
      {"probe": "Probe 3", "gruppe": "Nicht-/Ex-Raucher", "wert": 0.055, "jitter": 0},
      {"probe": "Probe 3", "gruppe": "Nicht-/Ex-Raucher", "wert": 0.051, "jitter": 0.22},
      {"probe": "Probe 3", "gruppe": "Nicht-/Ex-Raucher", "wert": 0.0441, "jitter": -0.2},
      {"probe": "Probe 3", "gruppe": "Nicht-/Ex-Raucher", "wert": 0.0357, "jitter": -0.06},
      {"probe": "Probe 3", "gruppe": "Nicht-/Ex-Raucher", "wert": 0.0269, "jitter": 0.08},
      {"probe": "Probe 4", "gruppe": "Nicht-/Ex-Raucher", "wert": 4.19, "jitter": 0},
      {"probe": "Probe 4", "gruppe": "Nicht-/Ex-Raucher", "wert": 0.528, "jitter": 0.31},
      {"probe": "Probe 4", "gruppe": "Nicht-/Ex-Raucher", "wert": 0.465, "jitter": 0.15},
      {"probe": "Probe 4", "gruppe": "Nicht-/Ex-Raucher", "wert": 0.384, "jitter": -0.17},
      {"probe": "Probe 4", "gruppe": "Nicht-/Ex-Raucher", "wert": 0.322, "jitter": 0.31},
      {"probe": "Probe 4", "gruppe": "Nicht-/Ex-Raucher", "wert": 0.279, "jitter": 0.54},
      {"probe": "Probe 4", "gruppe": "Nicht-/Ex-Raucher", "wert": 0.26, "jitter": 0.68},
      {"probe": "Probe 4", "gruppe": "Nicht-/Ex-Raucher", "wert": 0.26, "jitter": -0.34},
      {"probe": "Probe 4", "gruppe": "Nicht-/Ex-Raucher", "wert": 0.27, "jitter": -0.15},
      {"probe": "Probe 4", "gruppe": "Nicht-/Ex-Raucher", "wert": 0.153, "jitter": 0.45},
      {"probe": "Probe 4", "gruppe": "Nicht-/Ex-Raucher", "wert": 0.142, "jitter": -0.66},
      {"probe": "Probe 4", "gruppe": "Nicht-/Ex-Raucher", "wert": 0.1375, "jitter": 0.13},
      {"probe": "Probe 4", "gruppe": "Nicht-/Ex-Raucher", "wert": 0.1375, "jitter": 0.31},
      {"probe": "Probe 4", "gruppe": "Nicht-/Ex-Raucher", "wert": 0.13, "jitter": -0.1},
      {"probe": "Probe 4", "gruppe": "Nicht-/Ex-Raucher", "wert": 0.119, "jitter": -0.01},
      {"probe": "Probe 4", "gruppe": "Nicht-/Ex-Raucher", "wert": 0.115, "jitter": 0.5},
      {"probe": "Probe 4", "gruppe": "Nicht-/Ex-Raucher", "wert": 0.115, "jitter": 0.77},
      {"probe": "Probe 4", "gruppe": "Nicht-/Ex-Raucher", "wert": 0.105, "jitter": 0.3},
      {"probe": "Probe 4", "gruppe": "Nicht-/Ex-Raucher", "wert": 0.105, "jitter": -0.4},
      {"probe": "Probe 4", "gruppe": "Nicht-/Ex-Raucher", "wert": 0.1, "jitter": 0.6},
      {"probe": "Probe 4", "gruppe": "Nicht-/Ex-Raucher", "wert": 0.097, "jitter": -0.15},
      {"probe": "Probe 4", "gruppe": "Nicht-/Ex-Raucher", "wert": 0.097, "jitter": 0.17},
      {"probe": "Probe 4", "gruppe": "Nicht-/Ex-Raucher", "wert": 0.093, "jitter": -0.82},
      {"probe": "Probe 4", "gruppe": "Nicht-/Ex-Raucher", "wert": 0.093, "jitter": -0.61},
      {"probe": "Probe 4", "gruppe": "Nicht-/Ex-Raucher", "wert": 0.09, "jitter": -0.25},
      {"probe": "Probe 4", "gruppe": "Nicht-/Ex-Raucher", "wert": 0.09, "jitter": 0.4},
      {"probe": "Probe 4", "gruppe": "Nicht-/Ex-Raucher", "wert": 0.088, "jitter": 0.82},
      {"probe": "Probe 4", "gruppe": "Nicht-/Ex-Raucher", "wert": 0.085, "jitter": -0.01},
      {"probe": "Probe 4", "gruppe": "Nicht-/Ex-Raucher", "wert": 0.082, "jitter": 0.64},
      {"probe": "Probe 4", "gruppe": "Nicht-/Ex-Raucher", "wert": 0.078, "jitter": -0.34},
      {"probe": "Probe 4", "gruppe": "Nicht-/Ex-Raucher", "wert": 0.078, "jitter": 0.31},
      {"probe": "Probe 4", "gruppe": "Nicht-/Ex-Raucher", "wert": 0.072, "jitter": -0.5},
      {"probe": "Probe 4", "gruppe": "Nicht-/Ex-Raucher", "wert": 0.07, "jitter": 0.15},
      {"probe": "Probe 4", "gruppe": "Nicht-/Ex-Raucher", "wert": 0.07, "jitter": 0.8},
      {"probe": "Probe 4", "gruppe": "Nicht-/Ex-Raucher", "wert": 0.0676, "jitter": -0.61},
      {"probe": "Probe 4", "gruppe": "Nicht-/Ex-Raucher", "wert": 0.065, "jitter": -0.06},
      {"probe": "Probe 4", "gruppe": "Nicht-/Ex-Raucher", "wert": 0.063, "jitter": 0.5},
      {"probe": "Probe 4", "gruppe": "Nicht-/Ex-Raucher", "wert": 0.0608, "jitter": -0.34},
      {"probe": "Probe 4", "gruppe": "Nicht-/Ex-Raucher", "wert": 0.0608, "jitter": 0.22},
      {"probe": "Probe 4", "gruppe": "Nicht-/Ex-Raucher", "wert": 0.0608, "jitter": 0.82},
      {"probe": "Probe 4", "gruppe": "Nicht-/Ex-Raucher", "wert": 0.055, "jitter": 0.3},
      {"probe": "Probe 4", "gruppe": "Nicht-/Ex-Raucher", "wert": 0.055, "jitter": -0.2},
      {"probe": "Probe 4", "gruppe": "Nicht-/Ex-Raucher", "wert": 0.051, "jitter": -0.48},
      {"probe": "Probe 4", "gruppe": "Nicht-/Ex-Raucher", "wert": 0.051, "jitter": -0.01},
      {"probe": "Probe 4", "gruppe": "Nicht-/Ex-Raucher", "wert": 0.0486, "jitter": 0.4},
      {"probe": "Probe 4", "gruppe": "Nicht-/Ex-Raucher", "wert": 0.0476, "jitter": 0.64},
      {"probe": "Probe 4", "gruppe": "Nicht-/Ex-Raucher", "wert": 0.0441, "jitter": -0.34},
      {"probe": "Probe 4", "gruppe": "Nicht-/Ex-Raucher", "wert": 0.0427, "jitter": -0.66},
      {"probe": "Probe 4", "gruppe": "Nicht-/Ex-Raucher", "wert": 0.0405, "jitter": 0.13},
      {"probe": "Probe 4", "gruppe": "Nicht-/Ex-Raucher", "wert": 0.0384, "jitter": -0.01}
    ],
    "median_blut": [
      {"probe": "Probe 1", "median": 0.13},
      {"probe": "Probe 2", "median": 0.279},
      {"probe": "Probe 3", "median": 0.299},
      {"probe": "Probe 4", "median": 0.249}
    ],
    "median_krea": [
      {"probe": "Probe 1", "median": 0.121},
      {"probe": "Probe 2", "median": 0.176},
      {"probe": "Probe 3", "median": 0.229},
      {"probe": "Probe 4", "median": 0.234}
    ]
  },
  "hconcat": [
    {
      "width": 460,
      "height": 325,
      "layer": [
        {
          "data": {"values": [{"grenzwert": 2.5}]},
          "mark": {"type": "rule", "color": "black", "strokeWidth": 3.3, "strokeDash": [0.1, 8.9], "strokeCap": "round"},
          "encoding": {"y": {"field": "grenzwert", "type": "quantitative", "title": "[µg/L]"}}
        },
        {
          "data": {"name": "blut"},
          "mark": {"type": "point", "filled": false, "strokeWidth": 2.8, "opacity": 1},
          "encoding": {
            "x": {"field": "probe", "type": "nominal", "title": null, "scale": {"type": "band", "paddingInner": 0.31, "paddingOuter": 0.358, "align": 0.5},
              "axis": {"labelAngle": 0, "labelFontSize": 20, "labelPadding": 8, "title": null}},
            "xOffset": {"field": "jitter", "type": "quantitative", "scale": {"domain": [-1, 1]}},
            "y": {"field": "wert", "type": "quantitative", "title": "[µg/L]",
              "scale": {"type": "log", "domain": [0.01, 10], "nice": false},
              "axis": {"values": [0.01, 0.1, 1, 10], "format": "~g", "labelFontSize": 19, "labelPadding": 3, "labelOverlap": false, "titleFontSize": 25, "titleX": -41}},
            "color": {"field": "gruppe", "type": "nominal", "scale": {"domain": ["Nicht-/Ex-Raucher", "Raucher"], "range": ["#0b8a3c", "#861a67"]},
              "legend": {"orient": "none", "legendX": 308, "legendY": 384, "direction": "horizontal", "title": null, "labelFont": "Liberation Sans", "labelFontSize": 20, "labelColor": "#111111", "labelLimit": 400, "symbolStrokeWidth": 3, "symbolSize": 100, "columnPadding": 48, "labelOffset": 22, "padding": 0}},
            "shape": {"field": "gruppe", "type": "nominal", "scale": {"domain": ["Nicht-/Ex-Raucher", "Raucher"], "range": ["circle", "diamond"]},
              "legend": {"orient": "none", "legendX": 308, "legendY": 384, "direction": "horizontal", "title": null, "labelFont": "Liberation Sans", "labelFontSize": 20, "labelColor": "#111111", "labelLimit": 400, "symbolStrokeWidth": 3, "symbolSize": 100, "columnPadding": 48, "labelOffset": 22, "padding": 0}},
            "size": {"field": "gruppe", "type": "nominal", "scale": {"domain": ["Nicht-/Ex-Raucher", "Raucher"], "range": [66, 92]}, "legend": null}
          }
        },
        {
          "data": {"name": "median_blut"},
          "mark": {"type": "tick", "color": "#dc1e24", "thickness": 4, "size": 69, "opacity": 1},
          "encoding": {
            "x": {"field": "probe", "type": "nominal", "title": null},
            "y": {"field": "median", "type": "quantitative", "title": "[µg/L]"}
          }
        }
      ]
    },
    {
      "width": 442,
      "height": 325,
      "layer": [
        {
          "data": {"values": [{"grenzwert": 0.73}]},
          "mark": {"type": "rule", "color": "black", "strokeWidth": 4, "strokeDash": [7, 8], "strokeCap": "round"},
          "encoding": {"y": {"field": "grenzwert", "type": "quantitative", "title": "[µg/g Kreatinin]"}}
        },
        {
          "data": {"values": [{"grenzwert": 0.3}]},
          "mark": {"type": "rule", "color": "black", "strokeWidth": 3.3, "strokeDash": [0.1, 8.9], "strokeCap": "round"},
          "encoding": {"y": {"field": "grenzwert", "type": "quantitative", "title": "[µg/g Kreatinin]"}}
        },
        {
          "data": {"name": "krea"},
          "mark": {"type": "point", "filled": false, "strokeWidth": 2.8, "opacity": 1},
          "encoding": {
            "x": {"field": "probe", "type": "nominal", "title": null, "scale": {"type": "band", "paddingInner": 0.313, "paddingOuter": 0.265, "align": 0.6},
              "axis": {"labelAngle": 0, "labelFontSize": 20, "labelPadding": 8, "title": null}},
            "xOffset": {"field": "jitter", "type": "quantitative", "scale": {"domain": [-1, 1]}},
            "y": {"field": "wert", "type": "quantitative", "title": "[µg/g Kreatinin]",
              "scale": {"type": "log", "domain": [0.01, 10], "nice": false},
              "axis": {"values": [0.01, 0.1, 1, 10], "format": "~g", "labelFontSize": 19, "labelPadding": 3, "labelOverlap": false, "titleFontSize": 25, "titleX": -43}},
            "color": {"field": "gruppe", "type": "nominal", "scale": {"domain": ["Nicht-/Ex-Raucher", "Raucher"], "range": ["#0b8a3c", "#861a67"]},
              "legend": {"orient": "none", "legendX": 308, "legendY": 384, "direction": "horizontal", "title": null, "labelFont": "Liberation Sans", "labelFontSize": 20, "labelColor": "#111111", "labelLimit": 400, "symbolStrokeWidth": 3, "symbolSize": 100, "columnPadding": 48, "labelOffset": 22, "padding": 0}},
            "shape": {"field": "gruppe", "type": "nominal", "scale": {"domain": ["Nicht-/Ex-Raucher", "Raucher"], "range": ["circle", "diamond"]},
              "legend": {"orient": "none", "legendX": 308, "legendY": 384, "direction": "horizontal", "title": null, "labelFont": "Liberation Sans", "labelFontSize": 20, "labelColor": "#111111", "labelLimit": 400, "symbolStrokeWidth": 3, "symbolSize": 100, "columnPadding": 48, "labelOffset": 22, "padding": 0}},
            "size": {"field": "gruppe", "type": "nominal", "scale": {"domain": ["Nicht-/Ex-Raucher", "Raucher"], "range": [66, 92]}, "legend": null}
          }
        },
        {
          "data": {"name": "median_krea"},
          "mark": {"type": "tick", "color": "#dc1e24", "thickness": 4, "size": 69, "opacity": 1},
          "encoding": {
            "x": {"field": "probe", "type": "nominal", "title": null},
            "y": {"field": "median", "type": "quantitative", "title": "[µg/g Kreatinin]"}
          }
        }
      ]
    }
  ]
}
